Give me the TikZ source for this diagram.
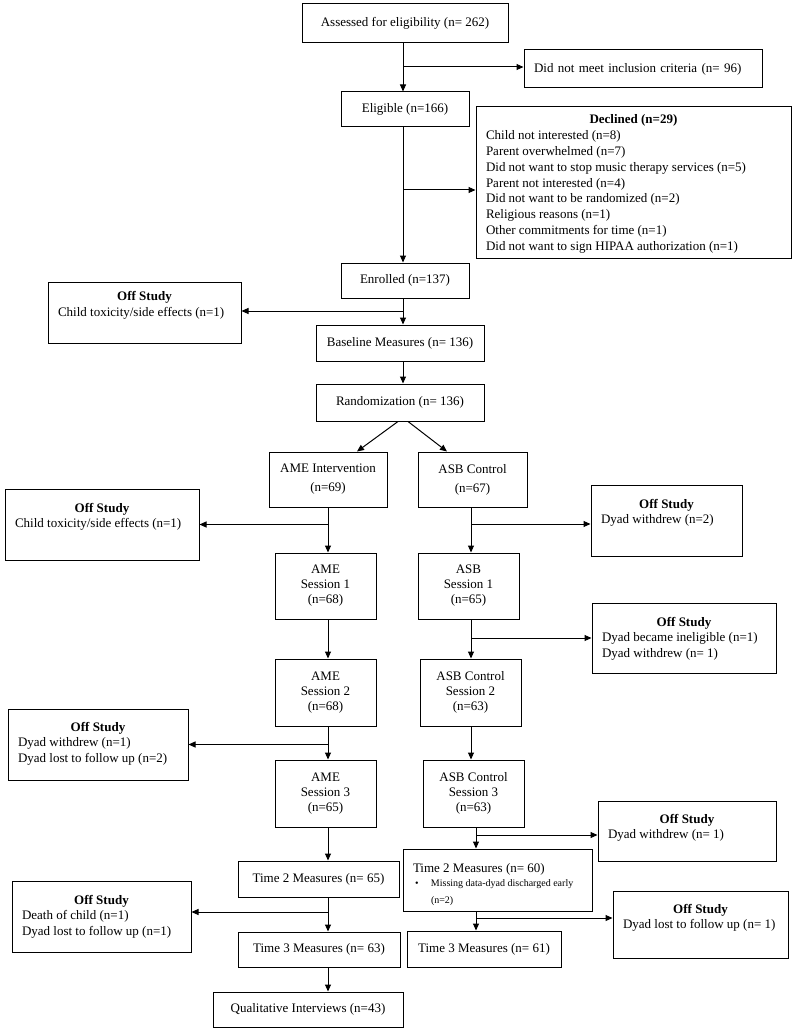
\documentclass[tikz,border=0pt]{standalone}
\usepackage{fontspec}
\setmainfont{Liberation Serif}
\usetikzlibrary{arrows.meta,calc}
\newcommand\fb[7][]{\node[flowbox,#1,minimum width={(#4-#3)*1pt},minimum height={(#6-#5)*1pt}] (#2) at ({(#3+#4)/2},{(#5+#6)/2}) {#7};}
\newcommand\ob[8]{\node[obox,minimum width={(#3-#2)*1pt},minimum height={(#5-#4)*1pt}] (#1) at ({(#2+#3)/2},{(#4+#5)/2}) {\parbox[c][\dimexpr#5pt-#4pt\relax][t]{\dimexpr#3pt-#2pt\relax}{\centering\rule{0pt}{#6pt}\textbf{#7}\par\raggedright\leftskip=10pt #8\par}};}
\begin{document}
\begin{tikzpicture}[x=1pt,y=-1pt,
  flowbox/.style={draw,line width=1pt,inner sep=0pt,align=center,font=\fontsize{13}{15}\selectfont},
  obox/.style={draw,line width=1pt,inner sep=0pt,font=\fontsize{13}{15.8}\selectfont},
  arr/.style={line width=1pt,-{Triangle[length=7pt,width=6pt]}}]
\fill[white] (0,0) rectangle (796,1032);
% main column
\fb{assess}{302}{508}{4}{43}{Assessed for eligibility (n= 262)}
\fb[text width=218pt,align=left]{notmeet}{524}{762}{50}{88}{Did not meet inclusion criteria (n= 96)}
\fb{eligible}{341}{469}{92}{127}{Eligible (n=166)}
\ob{declined}{476}{791}{107}{258}{17}{Declined (n=29)}{Child not interested (n=8)\\Parent overwhelmed (n=7)\\Did not want to stop music therapy services (n=5)\\Parent not interested (n=4)\\Did not want to be randomized (n=2)\\Religious reasons (n=1)\\Other commitments for time (n=1)\\Did not want to sign HIPAA authorization (n=1)}
\fb{enrolled}{341}{469}{263}{298}{Enrolled (n=137)}
\ob{off1}{48}{241}{282}{343}{18.5}{Off Study}{Child toxicity/side effects (n=1)}
\fb{baseline}{316}{484}{325}{361}{Baseline Measures (n= 136)}
\fb{random}{316}{484}{384}{421}{Randomization (n= 136)}
% arms
\fb{ameint}{269}{387}{452}{507}{AME Intervention\\[4pt](n=69)}
\fb{asbctl}{418}{527}{452}{507}{ASB Control\\[4pt](n=67)}
\ob{off2}{5}{199}{489}{560}{23}{Off Study}{Child toxicity/side effects (n=1)}
\ob{off3}{591}{742}{485}{556}{23}{Off Study}{Dyad withdrew (n=2)}
\fb{ame1}{275}{376}{553}{619}{AME\\Session 1\\(n=68)}
\fb{asb1}{418}{519}{553}{619}{ASB\\Session 1\\(n=65)}
\ob{off4}{592}{776}{603}{673}{23}{Off Study}{Dyad became ineligible (n=1)\\Dyad withdrew (n= 1)}
\fb{ame2}{275}{376}{659}{726}{AME\\Session 2\\(n=68)}
\fb{asb2}{420}{521}{659}{726}{ASB Control\\Session 2\\(n=63)}
\ob{off5}{8}{188}{709}{780}{22}{Off Study}{Dyad withdrew (n=1)\\Dyad lost to follow up (n=2)}
\fb{ame3}{275}{376}{760}{827}{AME\\Session 3\\(n=65)}
\fb{asb3}{423}{524}{760}{827}{ASB Control\\Session 3\\(n=63)}
\ob{off6}{598}{776}{801}{861}{22}{Off Study}{Dyad withdrew (n= 1)}
\fb{t2a}{238}{399}{861}{897}{Time 2 Measures (n= 65)}
\node[obox,minimum width=189pt,minimum height=62pt] (t2b) at (497.5,880) {\parbox[c][62pt][t]{189pt}{\raggedright\leftskip=10pt\rule{0pt}{23pt}Time 2 Measures (n= 60)\par\vspace{2pt}{\fontsize{10}{12}\selectfont\leftskip=12pt\makebox[16pt][l]{\textbullet}Missing data-dyad discharged early\par\vspace{5pt}\leftskip=28pt (n=2)\par}}};
\ob{off7}{12}{191}{881}{952}{23}{Off Study}{Death of child (n=1)\\Dyad lost to follow up (n=1)}
\fb{t3a}{238}{400}{932}{967}{Time 3 Measures (n= 63)}
\fb{t3b}{407}{561}{931}{967}{Time 3 Measures (n= 61)}
\ob{off8}{613}{788}{891}{958}{22}{Off Study}{Dyad lost to follow up (n= 1)}
\fb{qual}{213}{403}{992}{1027}{Qualitative Interviews (n=43)}
% spines
\coordinate (sp) at (403,0);
\coordinate (ap) at (328,0);
\coordinate (bp) at (471,0);
\coordinate (bq) at (476,0);
% main connectors
\draw[arr] (assess.south -| sp) -- (eligible.north -| sp);
\coordinate (j0) at ([yshift=2pt]notmeet.west);
\draw[arr] (j0 -| sp) -- (j0);
\draw[arr] (eligible.south -| sp) -- (enrolled.north -| sp);
\coordinate (j1) at ([yshift=-7.5pt]declined.west);
\draw[arr] (j1 -| sp) -- (j1);
\draw[arr] (enrolled.south -| sp) -- (baseline.north -| sp);
\coordinate (j2) at ([yshift=1.5pt]off1.east);
\draw[arr] (j2 -| sp) -- (j2);
\draw[arr] (baseline.south -| sp) -- (random.north -| sp);
\coordinate (r0) at (random.south -| sp);
\draw[arr] ([xshift=-5pt]r0) -- ([xshift=29pt]ameint.north);
\draw[arr] ([xshift=5pt]r0) -- ([xshift=-25.5pt]asbctl.north);
% AME arm
\draw[arr] (ameint.south -| ap) -- (ame1.north -| ap);
\draw[arr] (off2.east -| ap) -- (off2.east);
\draw[arr] (ame1.south -| ap) -- (ame2.north -| ap);
\draw[arr] (ame2.south -| ap) -- (ame3.north -| ap);
\draw[arr] (off5.east -| ap) -- (off5.east);
\draw[arr] (ame3.south -| ap) -- (t2a.north -| ap);
\coordinate (j4) at ([yshift=4.5pt]off7.east);
\draw[arr] (j4 -| ap) -- (j4);
\draw[arr] (t2a.south -| ap) -- (t3a.north -| ap);
\draw[arr] (t3a.south -| ap) -- (qual.north -| ap);
% ASB arm
\draw[arr] (asbctl.south -| bp) -- (asb1.north -| bp);
\coordinate (j5) at ([yshift=-3.5pt]off3.west);
\draw[arr] (j5 -| bp) -- (j5);
\draw[arr] (asb1.south -| bp) -- (asb2.north -| bp);
\draw[arr] (off4.west -| bp) -- (off4.west);
\draw[arr] (asb2.south -| bp) -- (asb3.north -| bp);
\draw[arr] (asb3.south -| bq) -- (t2b.north -| bq);
\coordinate (j6) at ([yshift=-4pt]off6.west);
\draw[arr] (j6 -| bq) -- (j6);
\draw[arr] (t2b.south -| bq) -- (t3b.north -| bq);
\coordinate (j7) at ([yshift=6.5pt]off8.west);
\draw[arr] (j7 -| bq) -- (j7);
\end{tikzpicture}
\end{document}
